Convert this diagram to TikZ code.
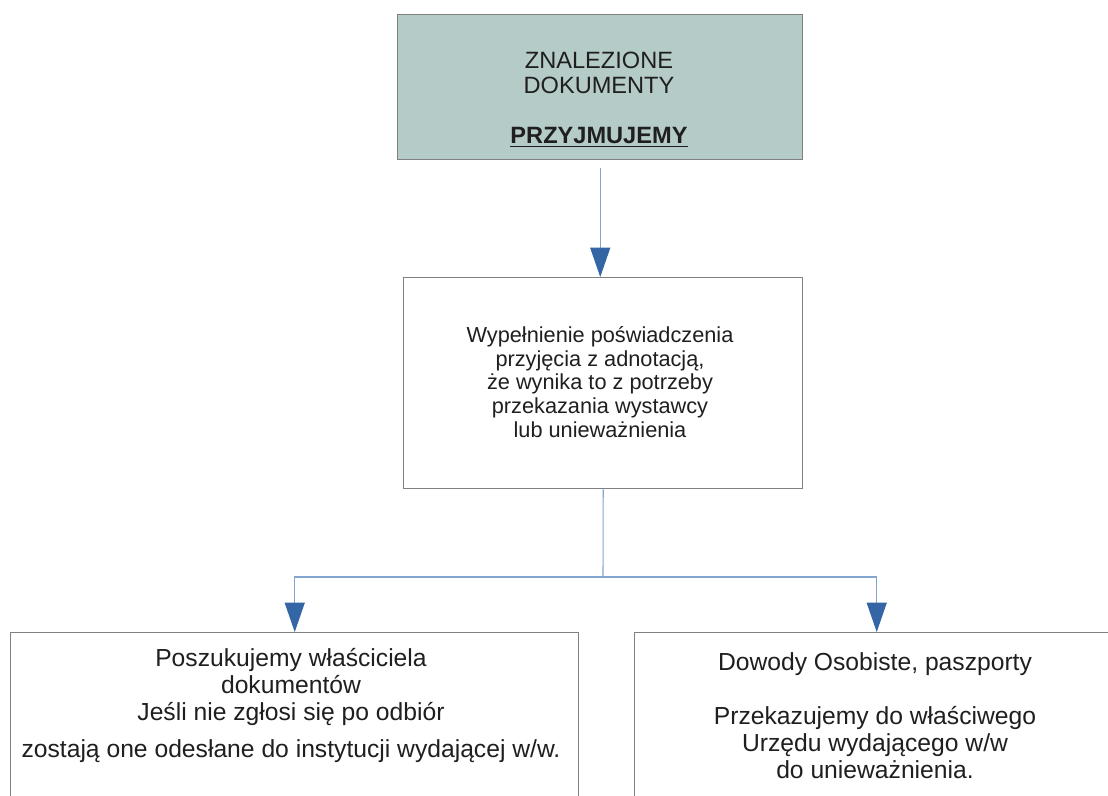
\documentclass[tikz,border=0pt]{standalone}
\usepackage{fontspec}
\setmainfont{Liberation Sans}
\usetikzlibrary{arrows.meta}
\definecolor{topfill}{RGB}{181,203,199}
\definecolor{boxline}{RGB}{128,128,128}
\definecolor{connline}{RGB}{130,165,210}
\definecolor{tipblue}{RGB}{52,101,164}
\tikzset{
  box/.style={draw=boxline, line width=1.1pt, rectangle, inner sep=0pt},
  txt/.style={inner sep=0pt, align=center, text=black!88},
  conn/.style={draw=connline, line width=0.8pt},
  tipped/.style={-{Triangle[width=15pt,length=22pt,fill=tipblue,color=tipblue]}},
}
\begin{document}
\begin{tikzpicture}[x=0.75pt,y=-0.75pt]
\useasboundingbox (0,0) rectangle (1108,796);
\clip (0,0) rectangle (1108,796);
% boxes
\node[box, fill=topfill, minimum width=405*0.75pt, minimum height=145*0.75pt, anchor=north west] (top) at (397,14) {};
\node[txt, anchor=north, font=\fontsize{17.7pt}{18.75pt}\selectfont] (toptxt) at (599,52)
  {ZNALEZIONE\\DOKUMENTY\\[18.75pt]\underline{\textbf{PRZYJMUJEMY}}};
\node[box, fill=white, minimum width=399*0.75pt, minimum height=211*0.75pt, anchor=north west] (mid) at (403,277) {};
\node[txt, font=\fontsize{16.3pt}{17.8pt}\selectfont] (midtxt) at (600,382)
  {Wypełnienie poświadczenia\\przyjęcia z adnotacją,\\że wynika to z potrzeby\\przekazania wystawcy\\lub unieważnienia};
\node[box, fill=white, minimum width=568*0.75pt, minimum height=220*0.75pt, anchor=north west] (bl) at (10,632) {};
\node[txt, anchor=north, font=\fontsize{18.5pt}{20.25pt}\selectfont] (bltxt) at (291,648)
  {Poszukujemy właściciela\\dokumentów\\Jeśli nie zgłosi się po odbiór\\[7.5pt]zostają one odesłane do instytucji wydającej w/w.};
\node[box, fill=white, minimum width=484*0.75pt, minimum height=220*0.75pt, anchor=north west] (br) at (634,632) {};
\node[txt, anchor=north, font=\fontsize{18.5pt}{20.25pt}\selectfont] (brtxt) at (875,652)
  {Dowody Osobiste, paszporty\\[20.25pt]Przekazujemy do właściwego\\Urzędu wydającego w/w\\do unieważnienia.};
% connectors
\coordinate (topout) at ([yshift=-5.5pt]top.south);
\draw[conn, tipped] (topout) -- (topout |- mid.north);
\coordinate (j) at (603,577);
\draw[conn] (mid.south) -- (j);
\draw[conn, tipped] (j) -| (bl.north);
\draw[conn, tipped] (j) -| (br.north);
\end{tikzpicture}
\end{document}
